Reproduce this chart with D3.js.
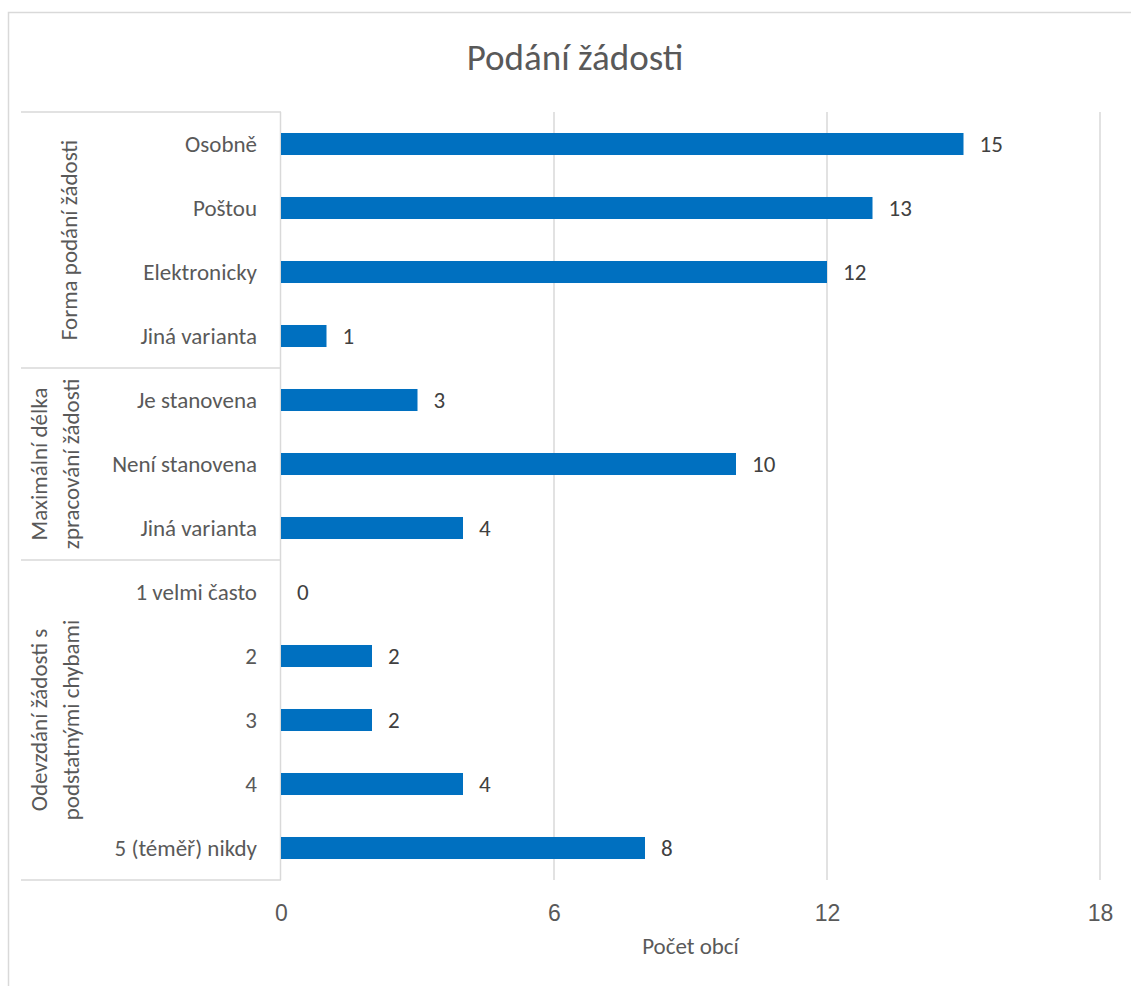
<!DOCTYPE html>
<html>
<head>
<meta charset="utf-8">
<script src="https://cdn.jsdelivr.net/npm/d3@7"></script>
<style>
  html, body { margin: 0; padding: 0; background: #fff; }
  svg { display: block; font-family: Carlito, Calibri, Lato, "Open Sans", sans-serif; }
</style>
</head>
<body>
<div id="chart"></div>
<script>
var title = "Podání žádosti";
var axisTitle = "Počet obcí";
var categories = ["Osobně", "Poštou", "Elektronicky", "Jiná varianta",
    "Je stanovena", "Není stanovena", "Jiná varianta",
    "1 velmi často", "2", "3", "4", "5 (téměř) nikdy"];
var values = [15, 13, 12, 1, 3, 10, 4, 0, 2, 2, 4, 8];
var groupOf = [0, 0, 0, 0, 1, 1, 1, 2, 2, 2, 2, 2];
var groupLabels = [
    ["Forma podání žádosti"],
    ["Maximální délka", "zpracování žádosti"],
    ["Odevzdání žádosti s", "podstatnými chybami"]
];
var xTicks = [0, 6, 12, 18];

var width = 1131, height = 986;
var plot = { left: 281, right: 1100, top: 112, bottom: 880 };
var blue = "#0070C0", grid = "#d9d9d9", textCol = "#595959", valCol = "#404040";
var fs = 23;

var svg = d3.select("#chart").append("svg")
    .attr("width", width).attr("height", height);

// outer chart border (runs past the picture on the right and bottom)
svg.append("rect")
    .attr("x", 8.5).attr("y", 12.5)
    .attr("width", 1200).attr("height", 1100)
    .attr("fill", "#fff").attr("stroke", grid).attr("stroke-width", 1.5);

var x = d3.scaleLinear().domain([0, 18]).range([plot.left, plot.right]);
var y = d3.scaleBand().domain(d3.range(categories.length))
    .range([plot.top, plot.bottom]).paddingInner(0.656).paddingOuter(0.328);

svg.append("text")
    .attr("x", 575).attr("y", 70)
    .attr("text-anchor", "middle")
    .attr("font-size", 37).attr("fill", textCol)
    .text(title);

// vertical gridlines
svg.append("g").selectAll("line")
    .data(xTicks.filter(function (d) { return d > 0; }))
    .enter().append("line")
    .attr("x1", function (d) { return x(d); }).attr("x2", function (d) { return x(d); })
    .attr("y1", plot.top).attr("y2", plot.bottom)
    .attr("stroke", grid).attr("stroke-width", 1.5);

// x axis tick labels
var xAxis = d3.axisBottom(x).tickValues(xTicks).tickSize(0).tickPadding(0);
var gx = svg.append("g").attr("transform", "translate(0," + (plot.bottom + 41) + ")").call(xAxis);
gx.select(".domain").remove();
gx.selectAll("text").attr("font-size", fs).attr("fill", textCol)
    .attr("font-family", null).attr("dy", null);

svg.append("text")
    .attr("x", (plot.left + plot.right) / 2).attr("y", 954)
    .attr("text-anchor", "middle").attr("font-size", fs).attr("fill", textCol)
    .text(axisTitle);

// category axis line and group separators
svg.append("line")
    .attr("x1", plot.left - 0.5).attr("x2", plot.left - 0.5)
    .attr("y1", plot.top).attr("y2", plot.bottom)
    .attr("stroke", grid).attr("stroke-width", 1.5);

var groupIdx = d3.range(groupLabels.length);
var groupBounds = groupIdx.map(function (g) {
    var idx = d3.range(categories.length).filter(function (i) { return groupOf[i] === g; });
    var step = y.step();
    var top = y(idx[0]) - y.paddingInner() * step / 2;
    var bottom = y(idx[idx.length - 1]) + y.bandwidth() + y.paddingInner() * step / 2;
    return { g: g, top: top, bottom: bottom };
});
var sepYs = [plot.top].concat(groupBounds.map(function (b) { return b.bottom; }));
svg.append("g").selectAll("line")
    .data(sepYs).enter().append("line")
    .attr("x1", 21).attr("x2", plot.left)
    .attr("y1", function (d) { return d; }).attr("y2", function (d) { return d; })
    .attr("stroke", grid).attr("stroke-width", 1.5);

// group labels (rotated)
groupBounds.forEach(function (b) {
    var lines = groupLabels[b.g];
    var cy = (b.top + b.bottom) / 2;
    lines.forEach(function (txt, k) {
        var cx = lines.length === 1 ? 69 : 39 + k * 32;
        svg.append("text")
            .attr("transform", "translate(" + cx + "," + cy + ") rotate(-90)")
            .attr("text-anchor", "middle").attr("dy", "0.35em")
            .attr("font-size", fs).attr("fill", textCol)
            .text(txt);
    });
});

// category labels
svg.append("g").selectAll("text")
    .data(categories).enter().append("text")
    .attr("x", plot.left - 24)
    .attr("y", function (d, i) { return y(i) + y.bandwidth() / 2; })
    .attr("dy", "0.35em").attr("text-anchor", "end")
    .attr("font-size", fs).attr("fill", textCol)
    .text(function (d) { return d; });

// bars
svg.append("g").selectAll("rect")
    .data(values).enter().append("rect")
    .attr("x", x(0))
    .attr("y", function (d, i) { return y(i); })
    .attr("width", function (d) { return x(d) - x(0); })
    .attr("height", y.bandwidth())
    .attr("fill", blue);

// value labels
svg.append("g").selectAll("text")
    .data(values).enter().append("text")
    .attr("x", function (d) { return x(d) + 16; })
    .attr("y", function (d, i) { return y(i) + y.bandwidth() / 2; })
    .attr("dy", "0.35em")
    .attr("font-size", fs).attr("fill", valCol)
    .text(function (d) { return d; });
</script>
</body>
</html>
